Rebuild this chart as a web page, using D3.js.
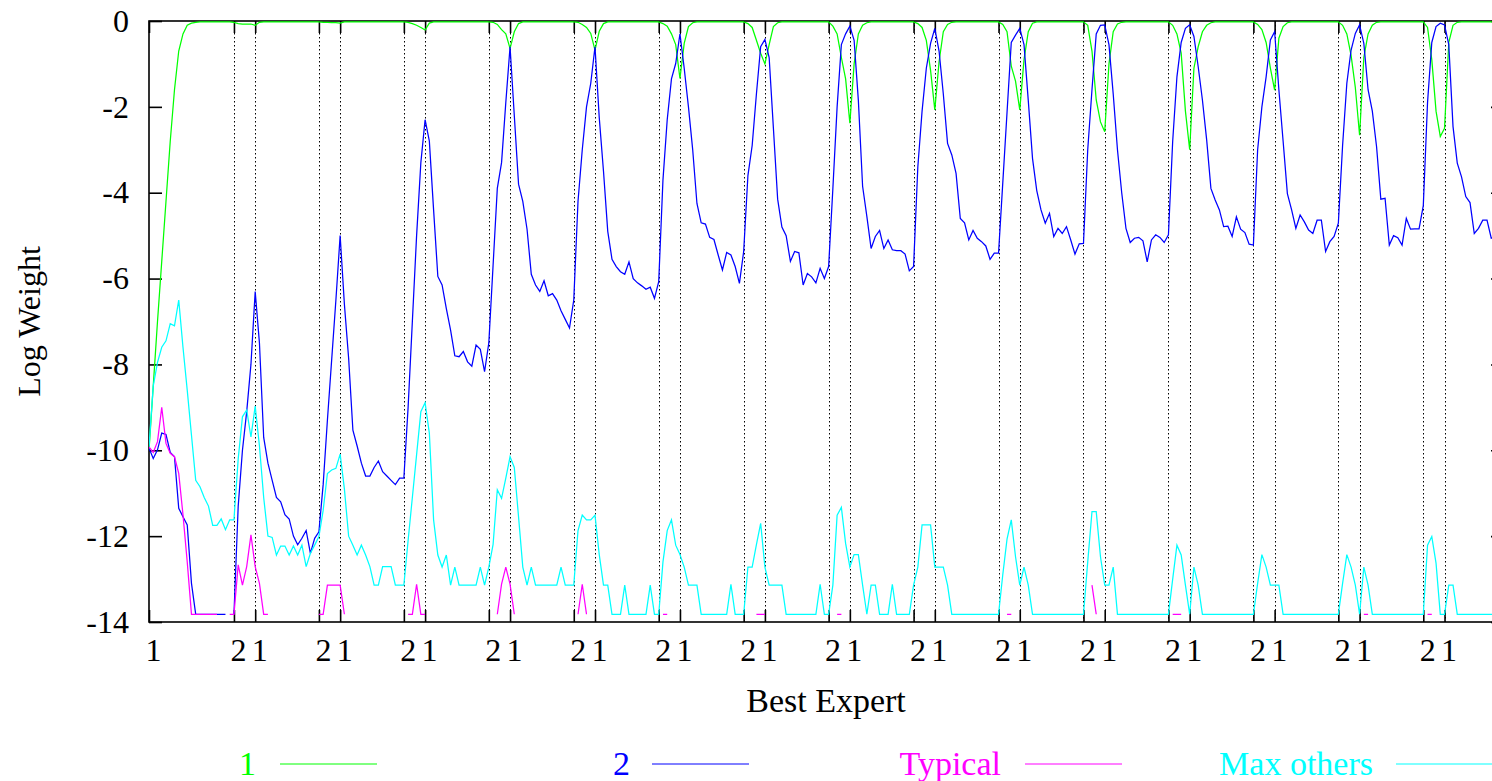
<!DOCTYPE html>
<html>
<head>
<meta charset="utf-8">
<script src="https://cdn.jsdelivr.net/npm/d3@7"></script>
<style>
  html, body { margin: 0; padding: 0; background: #fff; overflow: hidden; }
  text { font-family: "Liberation Serif", "Times New Roman", serif; }
</style>
</head>
<body>
<svg id="chart" width="1492" height="781"></svg>
<script>
// Log weights per time step (index = step). null = weight not defined (no point drawn).
const expert1 = [
  -10, -8.5, -7.0, -5.6, -4.2, -2.8, -1.6, -0.7, -0.3, -0.1, -0.05, -0.03, -0.02, -0.02, -0.02, -0.02, -0.02, -0.02, -0.02, -0.02,
  -0.03, -0.06, -0.07, -0.07, -0.07, -0.1, -0.03, -0.02, -0.02, -0.02, -0.02, -0.02, -0.02, -0.02, -0.02, -0.02, -0.02, -0.02, -0.02, -0.02,
  -0.02, -0.03, -0.03, -0.04, -0.04, -0.05, -0.02, -0.02, -0.02, -0.02, -0.02, -0.02, -0.02, -0.02, -0.02, -0.02, -0.02, -0.02, -0.02, -0.02,
  -0.02, -0.03, -0.06, -0.1, -0.15, -0.21, -0.05, -0.02, -0.02, -0.02, -0.02, -0.02, -0.02, -0.02, -0.02, -0.02, -0.02, -0.02, -0.02, -0.02,
  -0.02, -0.03, -0.08, -0.2, -0.3, -0.64, -0.25, -0.06, -0.02, -0.02, -0.02, -0.02, -0.02, -0.02, -0.02, -0.02, -0.02, -0.02, -0.02, -0.02,
  -0.02, -0.03, -0.08, -0.15, -0.29, -0.68, -0.24, -0.06, -0.02, -0.02, -0.02, -0.02, -0.02, -0.02, -0.02, -0.02, -0.02, -0.02, -0.02, -0.02,
  -0.02, -0.06, -0.12, -0.3, -0.55, -1.34, -0.52, -0.13, -0.04, -0.02, -0.02, -0.02, -0.02, -0.02, -0.02, -0.02, -0.02, -0.02, -0.02, -0.02,
  -0.02, -0.06, -0.15, -0.45, -0.75, -1.0, -0.55, -0.13, -0.04, -0.02, -0.02, -0.02, -0.02, -0.02, -0.02, -0.02, -0.02, -0.02, -0.02, -0.02,
  -0.02, -0.12, -0.3, -0.85, -1.35, -2.38, -1.0, -0.3, -0.1, -0.04, -0.02, -0.02, -0.02, -0.02, -0.02, -0.02, -0.02, -0.02, -0.02, -0.02,
  -0.02, -0.06, -0.15, -0.45, -1.15, -2.07, -0.95, -0.25, -0.08, -0.03, -0.02, -0.02, -0.02, -0.02, -0.02, -0.02, -0.02, -0.02, -0.02, -0.02,
  -0.02, -0.08, -0.25, -1.05, -1.4, -2.07, -0.9, -0.25, -0.05, -0.02, -0.02, -0.02, -0.02, -0.02, -0.02, -0.02, -0.02, -0.02, -0.02, -0.02,
  -0.02, -0.1, -0.7, -1.84, -2.35, -2.58, -1.0, -0.25, -0.07, -0.03, -0.02, -0.02, -0.02, -0.02, -0.02, -0.02, -0.02, -0.02, -0.02, -0.02,
  -0.02, -0.1, -0.3, -0.75, -2.1, -3.0, -1.1, -0.6, -0.25, -0.1, -0.04, -0.02, -0.02, -0.02, -0.02, -0.02, -0.02, -0.02, -0.02, -0.02,
  -0.02, -0.08, -0.2, -0.5, -1.1, -1.61, -0.4, -0.13, -0.04, -0.02, -0.02, -0.02, -0.02, -0.02, -0.02, -0.02, -0.02, -0.02, -0.02, -0.02,
  -0.02, -0.1, -0.3, -0.8, -1.55, -2.66, -0.85, -0.3, -0.1, -0.03, -0.02, -0.02, -0.02, -0.02, -0.02, -0.02, -0.02, -0.02, -0.02, -0.02,
  -0.02, -0.15, -0.9, -2.1, -2.69, -2.5, -0.5, -0.1, -0.03, -0.02, -0.02, -0.02, -0.02, -0.02, -0.02, -0.02, -0.02, -0.02, -0.02
];

const expert2 = [
  -9.95, -10.19, -9.99, -9.6, -9.63, -10.05, -10.15, -11.35, -11.55, -11.74, -13.1, -13.82, -13.82, -13.82, -13.82, -13.82, -13.82, -13.82, -13.82, null,
  -13.82, -11.3, -10.0, -9.1, -8.0, -6.3, -7.5, -9.7, -10.3, -10.7, -11.1, -11.2, -11.5, -11.6, -12.0, -12.2, -12.05, -11.87, -12.4, -12.05,
  -11.9, -10.8, -9.3, -7.9, -6.5, -5.0, -6.6, -7.86, -9.53, -9.9, -10.3, -10.6, -10.6, -10.4, -10.25, -10.5, -10.6, -10.7, -10.8, -10.65,
  -10.65, -9.0, -7.0, -5.0, -3.3, -2.3, -2.8, -4.4, -5.95, -6.15, -6.7, -7.2, -7.8, -7.82, -7.7, -7.94, -8.04, -7.55, -7.65, -8.17,
  -7.5, -5.7, -3.9, -3.3, -1.9, -0.6, -2.2, -3.8, -4.2, -4.85, -5.9, -6.15, -6.3, -6.05, -6.4, -6.35, -6.5, -6.75, -6.95, -7.15,
  -6.5, -4.2, -3.0, -2.0, -1.45, -0.6, -2.25, -3.5, -4.9, -5.55, -5.72, -5.84, -5.9, -5.61, -6.0, -6.1, -6.17, -6.25, -6.2, -6.46,
  -6.07, -3.7, -2.3, -1.35, -0.99, -0.3, -1.1, -2.0, -3.0, -4.25, -4.7, -4.73, -5.04, -5.09, -5.45, -5.8, -5.39, -5.45, -5.72, -6.11,
  -5.37, -3.6, -2.9, -1.7, -0.6, -0.43, -0.85, -2.5, -4.15, -4.8, -5.0, -5.6, -5.37, -5.4, -6.15, -5.88, -5.96, -6.1, -5.76, -6.0,
  -5.72, -3.9, -2.0, -0.55, -0.3, -0.12, -0.45, -1.85, -3.85, -4.55, -5.3, -5.02, -4.88, -5.3, -5.1, -5.33, -5.35, -5.35, -5.43, -5.82,
  -5.72, -3.4, -2.1, -1.1, -0.52, -0.17, -0.7, -1.7, -2.85, -3.12, -3.55, -4.6, -4.7, -5.1, -4.88, -5.06, -5.14, -5.24, -5.55, -5.41,
  -5.41, -3.77, -2.13, -0.5, -0.33, -0.17, -0.55, -1.85, -3.2, -3.95, -4.4, -4.71, -4.48, -5.02, -4.83, -4.95, -4.79, -5.1, -5.43, -5.19,
  -5.18, -3.0, -1.6, -0.3, -0.1, -0.09, -0.55, -1.7, -3.0, -4.0, -4.83, -5.16, -5.06, -5.04, -5.12, -5.61, -5.1, -4.98, -5.04, -5.16,
  -4.98, -2.8, -1.3, -0.5, -0.17, -0.09, -0.36, -1.06, -1.84, -2.77, -3.9, -4.17, -4.4, -4.79, -4.78, -5.02, -4.56, -4.85, -4.93, -5.2,
  -5.22, -3.0, -2.0, -1.3, -0.44, -0.25, -1.6, -2.8, -4.02, -4.4, -4.83, -4.52, -4.68, -4.87, -4.95, -4.64, -4.64, -5.37, -5.14, -5.02,
  -4.71, -2.9, -1.45, -0.68, -0.29, -0.09, -0.52, -1.6, -2.1, -2.93, -4.15, -4.13, -5.22, -5.0, -5.05, -5.22, -4.6, -4.85, -4.84, -4.84,
  -4.3, -1.9, -0.5, -0.13, -0.05, -0.09, -0.55, -2.46, -3.31, -3.63, -4.09, -4.23, -4.95, -4.83, -4.64, -4.64, -5.06, -5.0, -5.1
];

const typical = [
  -9.92, -10.05, -9.8, -9.0, -9.84, -10.07, -10.15, -10.54, -11.5, -12.6, -13.82, -13.82, -13.82, -13.82, -13.82, -13.82, -13.82, null, null, -13.82,
  -13.82, -12.67, -13.14, -12.71, -11.97, -12.71, -13.1, -13.82, -13.82, null, null, null, null, null, null, null, null, null, null, null,
  -13.82, -13.82, -13.14, -13.14, -13.14, -13.14, -13.82, null, null, null, null, null, null, null, null, null, null, null, null, null,
  null, -13.82, -13.82, -13.12, -13.82, -13.82, null, null, null, null, null, null, null, null, null, null, null, null, null, null,
  null, null, -13.82, -13.12, -12.72, -13.12, -13.82, null, null, null, null, null, null, null, null, null, null, null, null, null,
  null, -13.82, -13.12, -13.82, null, null, null, null, null, null, null, null, null, null, null, null, null, null, null, null,
  null, -13.82, -13.82, null, null, null, null, null, null, null, null, null, null, null, null, null, null, null, null, null,
  null, null, null, -13.82, -13.82, -13.82, null, null, null, null, null, null, null, null, null, null, null, null, null, null,
  null, null, -13.82, -13.82, null, null, null, null, null, null, null, null, null, null, null, null, null, null, null, null,
  null, null, null, null, null, null, null, null, null, null, null, null, null, null, null, null, null, null, null, null,
  null, null, -13.82, -13.82, null, null, null, null, null, null, null, null, null, null, null, null, null, null, null, null,
  null, null, -13.14, -13.82, null, null, null, null, null, null, null, null, null, null, null, null, null, null, null, null,
  null, -13.82, -13.82, -13.82, null, null, null, null, null, null, null, null, null, null, null, null, null, null, null, null,
  null, null, null, null, null, null, null, null, null, null, null, null, null, null, null, null, null, null, null, null,
  null, null, null, null, null, null, -13.82, -13.82, null, null, null, null, null, null, null, null, null, null, null, null,
  null, -13.82, -13.82, null, null, null, null, null, null, null, null, null, null, null, null, null, null, null, null
];

const maxOthers = [
  -9.92, -8.5, -7.95, -7.6, -7.45, -7.05, -7.1, -6.5, -7.6, -8.6, -9.65, -10.7, -10.85, -11.1, -11.3, -11.75, -11.75, -11.6, -11.85, -11.62,
  -11.62, -10.2, -9.22, -9.06, -9.69, -8.97, -9.9, -11.1, -12.0, -12.03, -12.44, -12.23, -12.23, -12.44, -12.23, -12.44, -12.21, -12.71, -12.4, -12.21,
  -12.01, -11.4, -10.54, -10.46, -10.42, -10.09, -10.9, -12.0, -12.21, -12.44, -12.21, -12.44, -12.71, -13.14, -13.14, -12.71, -12.71, -12.71, -13.14, -13.14,
  -13.14, -12.1, -11.1, -10.1, -9.1, -8.89, -9.6, -11.62, -12.44, -12.72, -12.44, -13.14, -12.72, -13.14, -13.14, -13.14, -13.14, -13.14, -12.72, -13.14,
  -12.72, -12.2, -10.92, -11.12, -10.65, -10.15, -10.4, -11.55, -12.72, -13.14, -12.72, -13.14, -13.14, -13.14, -13.14, -13.14, -13.14, -12.72, -13.14, -13.14,
  -13.14, -11.87, -11.51, -11.62, -11.62, -11.51, -12.43, -13.14, -13.14, -13.82, -13.82, -13.82, -13.14, -13.82, -13.82, -13.82, -13.82, -13.82, -13.14, -13.82,
  -13.82, -12.6, -11.87, -11.62, -12.21, -12.43, -12.72, -13.14, -13.14, -13.14, -13.82, -13.82, -13.82, -13.82, -13.82, -13.82, -13.82, -13.12, -13.82, -13.82,
  -13.82, -12.72, -12.72, -12.2, -11.7, -12.72, -13.14, -13.14, -13.14, -13.14, -13.82, -13.82, -13.82, -13.82, -13.82, -13.82, -13.82, -13.82, -13.12, -13.82,
  -13.82, -13.14, -11.51, -11.33, -12.17, -12.72, -12.43, -12.43, -13.14, -13.82, -13.14, -13.14, -13.82, -13.82, -13.82, -13.12, -13.82, -13.82, -13.82, -13.82,
  -13.14, -12.72, -11.74, -11.74, -11.74, -12.72, -12.72, -12.72, -13.14, -13.82, -13.82, -13.82, -13.82, -13.82, -13.82, -13.82, -13.82, -13.82, -13.82, -13.82,
  -13.82, -12.9, -12.07, -11.62, -12.48, -13.14, -12.72, -13.14, -13.82, -13.82, -13.82, -13.82, -13.82, -13.82, -13.82, -13.82, -13.82, -13.82, -13.82, -13.82,
  -13.82, -12.6, -11.43, -11.43, -12.48, -13.14, -13.14, -12.72, -13.82, -13.82, -13.82, -13.82, -13.82, -13.82, -13.82, -13.82, -13.82, -13.82, -13.82, -13.82,
  -13.82, -13.0, -12.21, -12.44, -13.14, -13.82, -12.72, -13.14, -13.82, -13.82, -13.82, -13.82, -13.82, -13.82, -13.82, -13.82, -13.82, -13.82, -13.82, -13.82,
  -13.82, -13.1, -12.43, -12.72, -13.14, -13.14, -13.14, -13.82, -13.82, -13.82, -13.82, -13.82, -13.82, -13.82, -13.82, -13.82, -13.82, -13.82, -13.82, -13.82,
  -13.82, -13.1, -12.43, -12.72, -13.14, -13.82, -12.72, -13.14, -13.82, -13.82, -13.82, -13.82, -13.82, -13.82, -13.82, -13.82, -13.82, -13.82, -13.82, -13.82,
  -13.82, -12.21, -12.01, -12.63, -13.82, -13.82, -13.14, -13.14, -13.82, -13.82, -13.82, -13.82, -13.82, -13.82, -13.82, -13.82, -13.82, -13.82, -13.82
];

// Steps where the best expert changes, with the expert that takes over.
const switchSteps  = [0, 20, 25, 40, 45, 60, 65, 80, 85, 100, 105, 120, 125, 140, 145, 160, 165, 180, 185, 200, 205, 220, 225, 240, 245, 260, 265, 280, 285, 300, 305];
const switchLabels = ["1", "2", "1", "2", "1", "2", "1", "2", "1", "2", "1", "2", "1", "2", "1", "2", "1", "2", "1", "2", "1", "2", "1", "2", "1", "2", "1", "2", "1", "2", "1"];

const yTickValues = [0, -2, -4, -6, -8, -10, -12, -14];

const seriesNames  = ["1", "2", "Typical", "Max others"];
const seriesColors = ["#00ff00", "#0000ff", "#ff00ff", "#00ffff"];
const seriesData   = [expert1, expert2, typical, maxOthers];

// ---------------------------------------------------------------------------
const svg = d3.select("#chart");
const box = { left: 149, top: 21, right: 1504, bottom: 622 };
const TICK_FONT = 32;
const LABEL_FONT = 34;

const x = d3.scaleLinear().domain([0, 319]).range([box.left, box.right]);
const y = d3.scaleLinear().domain([-14, 0]).range([box.bottom, box.top]);

// dotted verticals at every switch
svg.append("g")
  .selectAll("line")
  .data(switchSteps.filter(s => s > 0))
  .join("line")
  .attr("x1", d => Math.round(x(d)) + 0.5)
  .attr("x2", d => Math.round(x(d)) + 0.5)
  .attr("y1", box.top)
  .attr("y2", box.bottom)
  .attr("stroke", "#000")
  .attr("stroke-width", 1)
  .attr("stroke-dasharray", "1.5,2.5");

// border
svg.append("rect")
  .attr("x", box.left).attr("y", box.top)
  .attr("width", box.right - box.left).attr("height", box.bottom - box.top)
  .attr("fill", "none").attr("stroke", "#000").attr("stroke-width", 1.6);

// axes with inward ticks (gnuplot style)
const xBottom = d3.axisBottom(x).tickValues(switchSteps)
  .tickFormat((d, i) => switchLabels[i]).tickSizeInner(-12).tickSizeOuter(0).tickPadding(16);
const gx = svg.append("g").attr("transform", `translate(0,${box.bottom})`).call(xBottom);
gx.select(".domain").remove();
gx.selectAll(".tick line").attr("stroke", "#000").attr("stroke-width", 1.6);
gx.selectAll(".tick text")
  .attr("font-size", TICK_FONT).attr("fill", "#000")
  .attr("font-family", '"Liberation Serif", "Times New Roman", serif')
  .attr("dx", 4);

const xTop = d3.axisTop(x).tickValues(switchSteps).tickFormat("").tickSizeInner(-12).tickSizeOuter(0);
const gxt = svg.append("g").attr("transform", `translate(0,${box.top})`).call(xTop);
gxt.select(".domain").remove();
gxt.selectAll(".tick line").attr("stroke", "#000").attr("stroke-width", 1.6);

const yLeft = d3.axisLeft(y).tickValues(yTickValues).tickFormat(d => String(d))
  .tickSizeInner(-13).tickSizeOuter(0).tickPadding(20);
const gy = svg.append("g").attr("transform", `translate(${box.left},0)`).call(yLeft);
gy.select(".domain").remove();
gy.selectAll(".tick line").attr("stroke", "#000").attr("stroke-width", 1.6);
gy.selectAll(".tick text")
  .attr("font-size", TICK_FONT).attr("fill", "#000")
  .attr("font-family", '"Liberation Serif", "Times New Roman", serif');

const yRight = d3.axisRight(y).tickValues(yTickValues).tickFormat("").tickSizeInner(-13).tickSizeOuter(0);
const gyr = svg.append("g").attr("transform", `translate(${box.right},0)`).call(yRight);
gyr.select(".domain").remove();
gyr.selectAll(".tick line").attr("stroke", "#000").attr("stroke-width", 1.6);

// series lines
svg.append("clipPath").attr("id", "plotClip")
  .append("rect").attr("x", box.left).attr("y", box.top - 2)
  .attr("width", box.right - box.left).attr("height", box.bottom - box.top + 4);

const line = d3.line()
  .defined(d => d !== null)
  .x((d, i) => x(i))
  .y(d => y(d));

const plot = svg.append("g").attr("clip-path", "url(#plotClip)");
seriesData.forEach((data, k) => {
  plot.append("path")
    .datum(data)
    .attr("fill", "none")
    .attr("stroke", seriesColors[k])
    .attr("stroke-width", 1.25)
    .attr("stroke-linejoin", "miter")
    .attr("d", line);
});

// axis titles
svg.append("text")
  .attr("transform", `translate(40,${(box.top + box.bottom) / 2}) rotate(-90)`)
  .attr("text-anchor", "middle")
  .attr("font-size", TICK_FONT)
  .text("Log Weight");

svg.append("text")
  .attr("x", 826).attr("y", 712)
  .attr("text-anchor", "middle")
  .attr("font-size", LABEL_FONT)
  .text("Best Expert");

// legend along the bottom
const legendTextEnd = [256, 630, 1001, 1373];
const legendLineStart = [280, 652, 1025, 1396];
const legendLineLen = 97;
const legendY = 764;
const lg = svg.append("g");
seriesNames.forEach((name, k) => {
  lg.append("text")
    .attr("x", legendTextEnd[k]).attr("y", legendY + 11)
    .attr("text-anchor", "end")
    .attr("font-size", LABEL_FONT)
    .attr("fill", seriesColors[k])
    .text(name);
  lg.append("line")
    .attr("x1", legendLineStart[k]).attr("x2", legendLineStart[k] + legendLineLen)
    .attr("y1", legendY).attr("y2", legendY)
    .attr("stroke", seriesColors[k]).attr("stroke-width", 1);
});
</script>
</body>
</html>
